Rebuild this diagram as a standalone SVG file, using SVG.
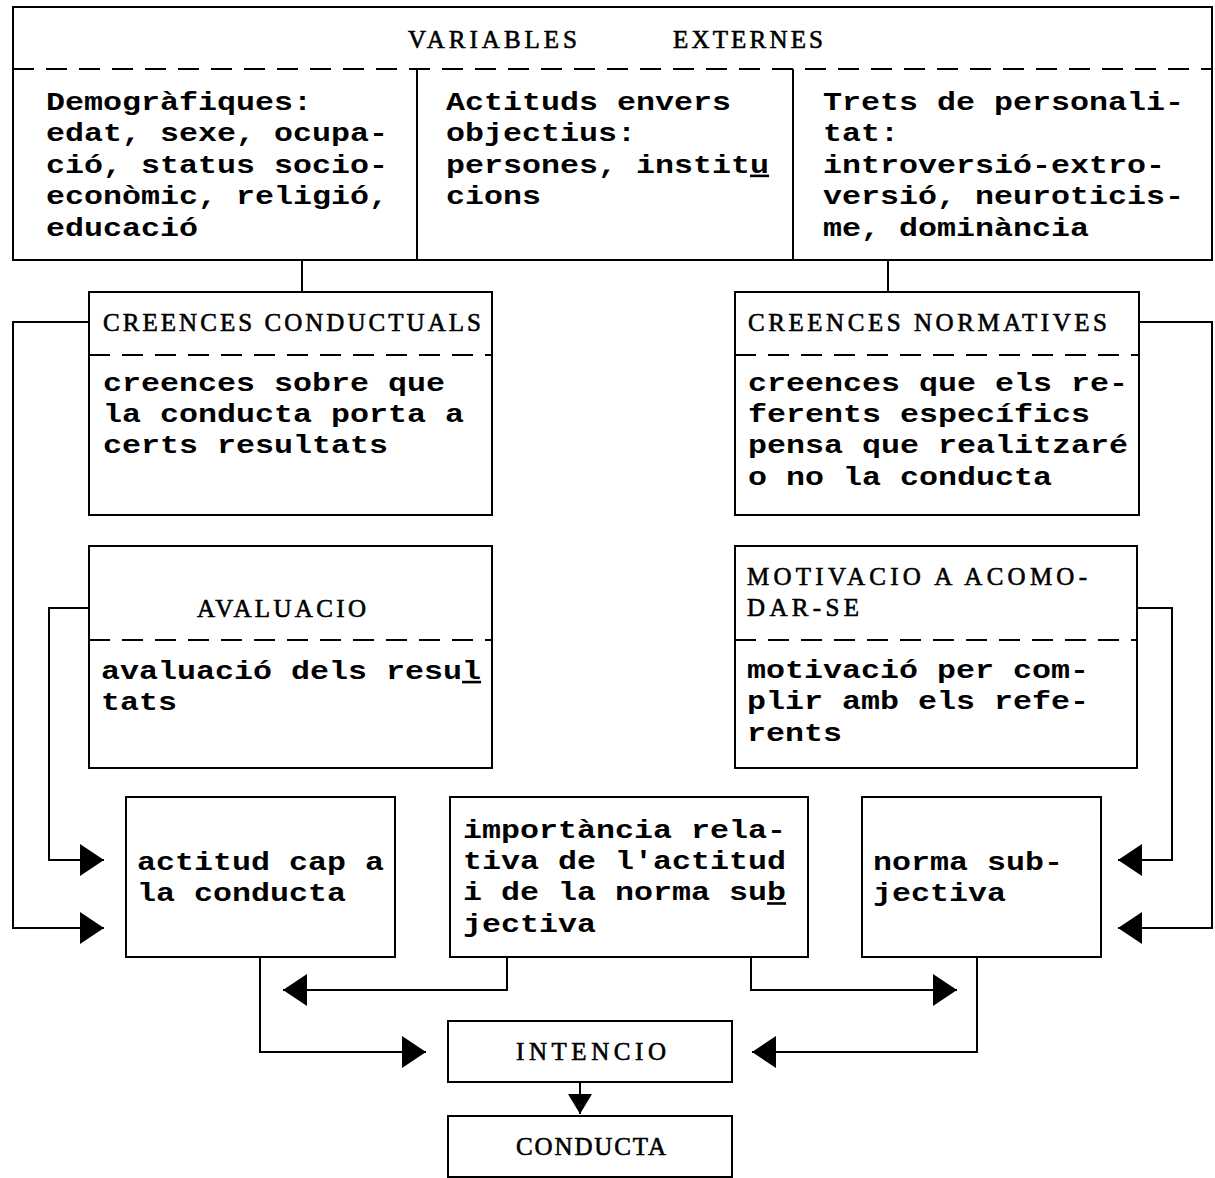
<svg xmlns="http://www.w3.org/2000/svg" width="1215" height="1178" viewBox="0 0 1215 1178">
<defs>
<style>
.box{fill:none;stroke:#000;stroke-width:2}
.dash{fill:none;stroke:#000;stroke-width:2;stroke-dasharray:21 12}
.c{fill:none;stroke:#000;stroke-width:2}
.t{font-family:"Liberation Mono","Courier New",monospace;font-size:26px;fill:#000;font-weight:bold}
.h{font-family:"Liberation Serif","Times New Roman",serif;font-size:25px;fill:#000;stroke:#000;stroke-width:0.6}
</style>
<marker id="ah" viewBox="0 0 24 32" refX="24" refY="16" markerWidth="24" markerHeight="32" markerUnits="userSpaceOnUse" orient="auto">
<path d="M0,0 L24,16 L0,32 z" fill="#000"/>
</marker>
<marker id="ahs" viewBox="0 0 20 24" refX="20" refY="12" markerWidth="20" markerHeight="24" markerUnits="userSpaceOnUse" orient="auto">
<path d="M0,0 L20,12 L0,24 z" fill="#000"/>
</marker>
</defs>
<rect width="1215" height="1178" fill="#fff"/>

<g id="variables-externes">
<rect class="box" x="13" y="7" width="1199" height="253"/>
<line class="dash" x1="13" y1="69" x2="1212" y2="69"/>
<line class="c" x1="417" y1="69" x2="417" y2="260"/>
<line class="c" x1="793" y1="69" x2="793" y2="260"/>
<text class="h" x="408" y="48" textLength="169" lengthAdjust="spacing">VARIABLES</text>
<text class="h" x="673" y="48" textLength="150" lengthAdjust="spacing">EXTERNES</text>
<text class="t" transform="translate(46,110) scale(1.218,1)"><tspan x="0" y="0">Demogràfiques:</tspan><tspan x="0" y="31.4">edat, sexe, ocupa-</tspan><tspan x="0" y="62.8">ció, status socio-</tspan><tspan x="0" y="94.2">econòmic, religió,</tspan><tspan x="0" y="125.6">educació</tspan></text>
<text class="t" transform="translate(446,110) scale(1.218,1)"><tspan x="0" y="0">Actituds envers</tspan><tspan x="0" y="31.4">objectius:</tspan><tspan x="0" y="62.8">persones, instit<tspan text-decoration="underline">u</tspan></tspan><tspan x="0" y="94.2">cions</tspan></text>
<text class="t" transform="translate(823,110) scale(1.218,1)"><tspan x="0" y="0">Trets de personali-</tspan><tspan x="0" y="31.4">tat:</tspan><tspan x="0" y="62.8">introversió-extro-</tspan><tspan x="0" y="94.2">versió, neuroticis-</tspan><tspan x="0" y="125.6">me, dominància</tspan></text>
</g>

<g id="creences-conductuals">
<rect class="box" x="89" y="292" width="403" height="223"/>
<line class="dash" x1="89" y1="355" x2="492" y2="355"/>
<text class="h" x="103" y="331" textLength="378" lengthAdjust="spacing">CREENCES CONDUCTUALS</text>
<text class="t" transform="translate(103,391) scale(1.218,1)"><tspan x="0" y="0">creences sobre que</tspan><tspan x="0" y="31.2">la conducta porta a</tspan><tspan x="0" y="62.4">certs resultats</tspan></text>
</g>

<g id="creences-normatives">
<rect class="box" x="735" y="292" width="404" height="223"/>
<line class="dash" x1="735" y1="355" x2="1139" y2="355"/>
<text class="h" x="748" y="331" textLength="359" lengthAdjust="spacing">CREENCES NORMATIVES</text>
<text class="t" transform="translate(748,391) scale(1.218,1)"><tspan x="0" y="0">creences que els re-</tspan><tspan x="0" y="31.2">ferents específics</tspan><tspan x="0" y="62.4">pensa que realitzaré</tspan><tspan x="0" y="93.6">o no la conducta</tspan></text>
</g>

<g id="avaluacio">
<rect class="box" x="89" y="546" width="403" height="222"/>
<line class="dash" x1="89" y1="640" x2="492" y2="640"/>
<text class="h" x="197" y="617" textLength="169" lengthAdjust="spacing">AVALUACIO</text>
<text class="t" transform="translate(101,679) scale(1.218,1)"><tspan x="0" y="0">avaluació dels resu<tspan text-decoration="underline">l</tspan></tspan><tspan x="0" y="31.2">tats</tspan></text>
</g>

<g id="motivacio">
<rect class="box" x="735" y="546" width="402" height="222"/>
<line class="dash" x1="735" y1="640" x2="1137" y2="640"/>
<text class="h" x="747" y="585" textLength="340" lengthAdjust="spacing">MOTIVACIO A ACOMO-</text>
<text class="h" x="747" y="616" textLength="112" lengthAdjust="spacing">DAR-SE</text>
<text class="t" transform="translate(747,678) scale(1.218,1)"><tspan x="0" y="0">motivació per com-</tspan><tspan x="0" y="31.4">plir amb els refe-</tspan><tspan x="0" y="62.8">rents</tspan></text>
</g>

<g id="actitud">
<rect class="box" x="126" y="797" width="269" height="160"/>
<text class="t" transform="translate(137,870) scale(1.218,1)"><tspan x="0" y="0">actitud cap a</tspan><tspan x="0" y="31.2">la conducta</tspan></text>
</g>

<g id="importancia">
<rect class="box" x="450" y="797" width="358" height="160"/>
<text class="t" transform="translate(463,838) scale(1.218,1)"><tspan x="0" y="0">importància rela-</tspan><tspan x="0" y="31.2">tiva de l'actitud</tspan><tspan x="0" y="62.4">i de la norma su<tspan text-decoration="underline">b</tspan></tspan><tspan x="0" y="93.6">jectiva</tspan></text>
</g>

<g id="norma">
<rect class="box" x="862" y="797" width="239" height="160"/>
<text class="t" transform="translate(873,870) scale(1.218,1)"><tspan x="0" y="0">norma sub-</tspan><tspan x="0" y="31.2">jectiva</tspan></text>
</g>

<g id="intencio">
<rect class="box" x="448" y="1021" width="284" height="61"/>
<text class="h" x="516" y="1060" textLength="150" lengthAdjust="spacing">INTENCIO</text>
</g>

<g id="conducta">
<rect class="box" x="448" y="1116" width="284" height="61"/>
<text class="h" x="516" y="1155" textLength="150" lengthAdjust="spacing">CONDUCTA</text>
</g>

<g id="connectors">
<path class="c" d="M302,260 V292"/>
<path class="c" d="M888,260 V292"/>
<path class="c" d="M89,322 H13 V928 H104" marker-end="url(#ah)"/>
<path class="c" d="M89,608 H49 V860 H104" marker-end="url(#ah)"/>
<path class="c" d="M1139,322 H1212 V928 H1118" marker-end="url(#ah)"/>
<path class="c" d="M1137,608 H1172 V860 H1118" marker-end="url(#ah)"/>
<path class="c" d="M260,957 V1052 H426" marker-end="url(#ah)"/>
<path class="c" d="M507,957 V990 H283" marker-end="url(#ah)"/>
<path class="c" d="M751,957 V990 H957" marker-end="url(#ah)"/>
<path class="c" d="M977,957 V1052 H752" marker-end="url(#ah)"/>
<path class="c" d="M580,1082 V1114" marker-end="url(#ahs)"/>
</g>
</svg>
